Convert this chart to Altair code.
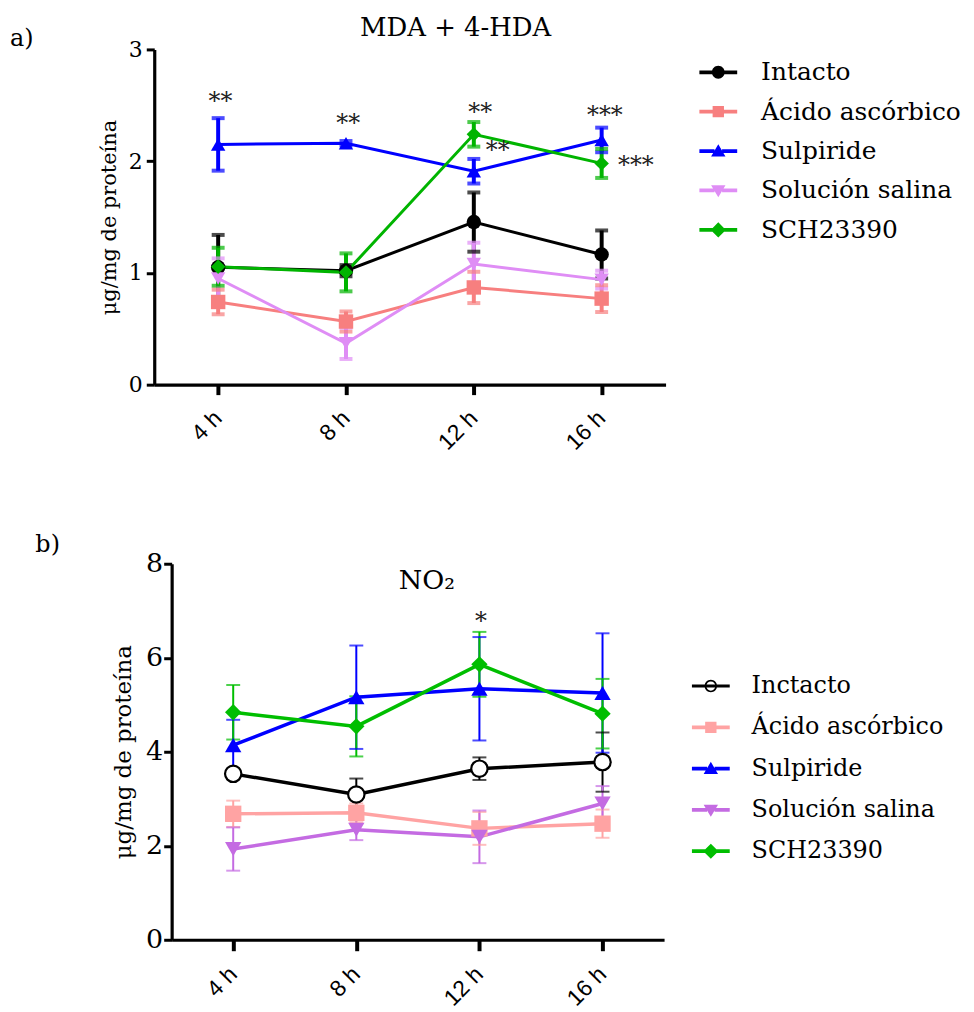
import altair as alt
import pandas as pd

# ---------------- data ----------------
hours = [4, 8, 12, 16]

# Panel a) MDA + 4-HDA
series_a = ["Intacto", "Ácido ascórbico", "Sulpiride", "Solución salina", "SCH23390"]
a_intacto = [1.05, 1.02, 1.455, 1.165]
a_ascorbico = [0.74, 0.565, 0.87, 0.77]
a_sulpiride = [2.15, 2.16, 1.91, 2.19]
a_salina = [0.95, 0.37, 1.08, 0.94]
a_sch = [1.055, 1.005, 2.24, 1.98]
a_intacto_err = [0.29, 0.05, 0.265, 0.215]
a_ascorbico_err = [0.11, 0.09, 0.14, 0.12]
a_sulpiride_err = [0.235, 0.02, 0.11, 0.11]
a_salina_err = [0.18, 0.14, 0.19, 0.08]
a_sch_err = [0.17, 0.17, 0.11, 0.13]
stars_a_x = [4.07, 8.07, 12.2, 12.75, 16.1, 17.07]
stars_a_y = [2.58, 2.39, 2.48, 2.14, 2.46, 2.01]
stars_a_txt = ["**", "**", "**", "**", "***", "***"]

# Panel b) NO2
series_b = ["Inctacto", "Ácido ascórbico", "Sulpiride", "Solución salina", "SCH23390"]
b_intacto = [3.53, 3.09, 3.64, 3.78]
b_ascorbico = [2.68, 2.70, 2.37, 2.47]
b_sulpiride = [4.14, 5.16, 5.34, 5.25]
b_salina = [1.93, 2.34, 2.19, 2.90]
b_sch = [4.84, 4.54, 5.86, 4.81]
b_intacto_err = [0.10, 0.34, 0.24, 0.63]
b_ascorbico_err = [0.28, 0.20, 0.35, 0.30]
b_sulpiride_err = [0.54, 1.10, 1.10, 1.27]
b_salina_err = [0.46, 0.22, 0.56, 0.37]
b_sch_err = [0.58, 0.64, 0.69, 0.74]
stars_b_x = [12.05]
stars_b_y = [6.89]
stars_b_txt = ["*"]

# ---------------- styles ----------------
colors_a = ["#000000", "#F77F7F", "#0000FF", "#DF8DF5", "#00B400"]
colors_b = ["#000000", "#FFA3A3", "#0000FF", "#C46BE2", "#00BE00"]
shapes = ["circle", "square", "triangle-up", "triangle-down", "diamond"]

SERIF = "DejaVu Serif"
SANS = "Liberation Sans"

BAR = "M-1,-0.1H-0.2V0.1H-1Z M0.2,-0.1H1V0.1H0.2Z"
P_CIRCLE = BAR + " M0.34,0A0.34,0.34 0 1,1 -0.34,0A0.34,0.34 0 1,1 0.34,0Z"
P_RING = ("M-1,-0.08H1V0.08H-1Z M0.33,0A0.33,0.33 0 1,1 -0.33,0A0.33,0.33 0 1,1 0.33,0Z "
          "M0.24,0A0.24,0.24 0 1,0 -0.24,0A0.24,0.24 0 1,0 0.24,0Z")
P_SQUARE = BAR + " M-0.3,-0.3H0.3V0.3H-0.3Z"
P_TUP = BAR + " M0,-0.36L0.38,0.28H-0.38Z"
P_TDN = BAR + " M-0.38,-0.28H0.38L0,0.36Z"
P_DIAM = BAR + " M0,-0.4L0.4,0L0,0.4L-0.4,0Z"
paths_a = [P_CIRCLE, P_SQUARE, P_TUP, P_TDN, P_DIAM]
paths_b = [P_RING, P_SQUARE, P_TUP, P_TDN, P_DIAM]


def build(series, means, errs):
    rows = []
    for s, shp, m, e in zip(series, shapes, means, errs):
        for h, v, d in zip(hours, m, e):
            rows.append({"serie": s, "forma": shp, "hora": h, "valor": v,
                         "lo": v - d, "hi": v + d})
    return pd.DataFrame(rows)


df_a = build(series_a, [a_intacto, a_ascorbico, a_sulpiride, a_salina, a_sch],
             [a_intacto_err, a_ascorbico_err, a_sulpiride_err, a_salina_err, a_sch_err])
df_b = build(series_b, [b_intacto, b_ascorbico, b_sulpiride, b_salina, b_sch],
             [b_intacto_err, b_ascorbico_err, b_sulpiride_err, b_salina_err, b_sch_err])
stars_a = pd.DataFrame({"hora": stars_a_x, "valor": stars_a_y, "txt": stars_a_txt})
stars_b = pd.DataFrame({"hora": stars_b_x, "valor": stars_b_y, "txt": stars_b_txt})


def make_panel(df, stars, series, colors, paths, ydom, yvals, width, height,
               ylab_size, ylab_pad, ytitle_size, ytitle_pad, tick_x,
               eb_w, cap, lw, psize,
               leg_x, leg_y, leg_font, leg_rowpad, leg_offset,
               title, tdx, toffset, tsize, tag_text, tag_x, tag_y, open_first):
    xaxis = alt.Axis(values=hours, labelExpr="datum.value + ' h'", labelAngle=-45,
                     labelFont=SANS, labelFontSize=23, labelColor="black",
                     tickSize=tick_x, tickWidth=4, tickColor="black",
                     domainWidth=3.2, domainColor="black", labelPadding=12,
                     labelOffset=-8, title=None, grid=False)
    yaxis = alt.Axis(values=yvals, title="μg/mg de proteína", titleFont=SERIF,
                     titleFontSize=ytitle_size, titleFontWeight="normal", titleColor="black",
                     titlePadding=ytitle_pad, labelFont=SERIF, labelFontSize=ylab_size,
                     labelColor="black", tickSize=8, tickWidth=3, tickColor="black",
                     domainWidth=3.2, domainColor="black", labelPadding=ylab_pad, grid=False)
    xs = alt.Scale(domain=[2, 18], nice=False, zero=False)
    ys = alt.Scale(domain=ydom, nice=False, zero=False)
    X = alt.X("hora:Q", scale=xs, axis=xaxis)
    cscale = alt.Scale(domain=series, range=colors)
    pscale = alt.Scale(domain=series, range=paths)
    legend = alt.Legend(orient="none", legendX=leg_x, legendY=leg_y, title=None,
                        labelFont=SERIF, labelFontSize=leg_font, labelColor="black",
                        labelLimit=0, symbolSize=1444, rowPadding=leg_rowpad,
                        labelOffset=leg_offset, padding=0, symbolStrokeWidth=0,
                        symbolOpacity=1)
    cplain = alt.Color("serie:N", scale=cscale)
    base = alt.Chart(df).encode(x=X)

    # invisible layer that only carries the legend (line + marker symbols)
    leg_layer = base.mark_point(filled=True, opacity=0).encode(
        y=alt.Y("valor:Q", scale=ys, axis=yaxis),
        color=alt.Color("serie:N", scale=cscale, legend=legend),
        shape=alt.Shape("serie:N", scale=pscale, legend=legend))
    rules = base.mark_rule(strokeWidth=eb_w).encode(
        y=alt.Y("lo:Q", scale=ys, axis=yaxis), y2="hi:Q", color=cplain)
    cap_lo = base.mark_tick(orient="horizontal", size=cap, thickness=eb_w).encode(
        y=alt.Y("lo:Q", scale=ys, axis=yaxis), color=cplain)
    cap_hi = base.mark_tick(orient="horizontal", size=cap, thickness=eb_w).encode(
        y=alt.Y("hi:Q", scale=ys, axis=yaxis), color=cplain)
    lines = base.mark_line(strokeWidth=lw).encode(
        y=alt.Y("valor:Q", scale=ys, axis=yaxis), color=cplain)
    pts_src = base
    if open_first:
        pts_src = base.transform_filter(alt.datum.serie != series[0])
    points = pts_src.mark_point(filled=True, opacity=1, size=psize).encode(
        y=alt.Y("valor:Q", scale=ys, axis=yaxis),
        color=cplain,
        shape=alt.Shape("forma:N", scale=None, legend=None))
    layers = [leg_layer, rules, cap_lo, cap_hi, lines, points]
    if open_first:
        opn = base.transform_filter(alt.datum.serie == series[0]).mark_point(
            shape="circle", filled=True, fill="white", stroke="black", strokeWidth=2.2,
            opacity=1, size=psize).encode(y=alt.Y("valor:Q", scale=ys, axis=yaxis))
        layers.append(opn)
    txt = alt.Chart(stars).mark_text(font=SERIF, fontSize=24, baseline="middle", dy=6,
                                     color="#222222").encode(
        x=X, y=alt.Y("valor:Q", scale=ys, axis=yaxis), text="txt:N")
    tag = alt.Chart(pd.DataFrame({"t": [tag_text]})).mark_text(
        font=SERIF, fontSize=24, align="left", baseline="middle", color="black").encode(
        x=alt.value(tag_x), y=alt.value(tag_y), text="t:N")
    layers += [txt, tag]
    return alt.layer(*layers).properties(
        width=width, height=height,
        title=alt.TitleParams(title, font=SERIF, fontSize=tsize, fontWeight="normal",
                              color="black", anchor="middle", dx=tdx, offset=toffset,
                              frame="group"))


panel_a = make_panel(df_a, stars_a, series_a, colors_a, paths_a, [0, 3], [0, 1, 2, 3],
                     514, 337, 22, 4, 21, 9, 10, 4, 13, 3, 210,
                     548, 4, 25, 7.6, 24, "MDA + 4-HDA", 46, -14, 26,
                     "a)", -145, -10, False)
panel_b = make_panel(df_b, stars_b, series_b, colors_b, paths_b, [0, 8], [0, 2, 4, 6, 8],
                     495, 378, 27, 1, 23, 10, 11, 2, 14, 3.5, 270,
                     523, 104, 24, 10.5, 22, "NO₂", 9, -62, 27,
                     "b)", -137, -19, True)

chart = alt.vconcat(panel_a, panel_b, spacing=79, center=True).resolve_scale(
    color="independent", shape="independent", x="independent", y="independent"
).resolve_legend(color="independent", shape="independent").properties(
    padding={"left": 2, "top": 5, "right": 5, "bottom": 5}, background="white"
).configure_view(stroke=None).configure_legend(
    labelFont=SERIF, labelColor="black", labelLimit=0, symbolOpacity=1,
    symbolStrokeWidth=0, padding=0, symbolSize=1444
)

chart.save("out.html", embed_options={"renderer": "svg", "actions": False})
